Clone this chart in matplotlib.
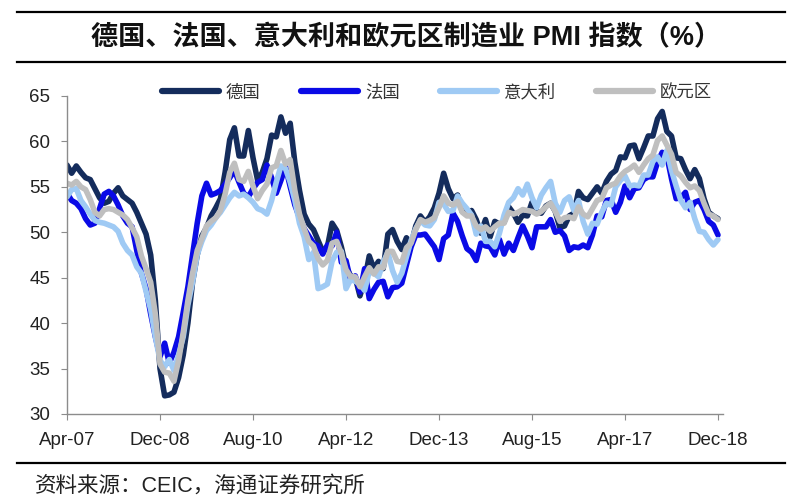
import matplotlib
matplotlib.use("Agg")
import matplotlib.pyplot as plt
from matplotlib.lines import Line2D
import numpy as np

plt.rcParams['font.family'] = ['Liberation Sans', 'Noto Sans CJK SC', 'DejaVu Sans']

tick_labels = ["Apr-07", "Dec-08", "Aug-10", "Apr-12", "Dec-13", "Aug-15", "Apr-17", "Dec-18"]
series_names = ["德国", "法国", "意大利", "欧元区"]

germany = [
    57.4, 56.5, 57.3, 56.6, 56.0, 55.8, 54.8, 53.8, 53.2, 53.4, 54.3, 54.9, 54.0, 53.6, 53.2, 52.2, 51.0, 49.8, 47.5, 42.5, 35.0,
    32.0, 32.1, 32.4, 34.0, 36.5, 40.0, 44.5, 47.5, 49.6, 50.5, 51.8, 52.7,
    53.7, 56.6, 60.2, 61.5, 58.4, 58.4, 61.2, 58.2, 55.7, 56.6, 58.1, 60.7,
    60.5, 62.7, 60.9, 62.0, 57.7, 54.6, 52.0, 50.9, 50.3, 49.1, 47.9, 48.4,
    51.0, 50.2, 48.4, 46.2, 45.2, 45.0, 43.0, 44.7, 47.4, 46.0, 46.8, 46.0,
    49.8, 50.3, 49.0, 48.1, 49.4, 48.6, 50.7, 51.8, 51.1, 51.7, 52.7, 54.3,
    56.5, 54.8, 53.7, 54.1, 52.3, 52.0, 52.4, 51.4, 49.9, 51.4, 49.5, 51.2,
    50.9, 51.1, 52.8, 52.1, 51.1, 51.9, 51.8, 53.3, 52.3, 52.1, 52.9, 53.2,
    52.3, 50.5, 50.7, 51.8, 52.1, 54.5, 53.8, 53.6, 54.3, 55.0, 54.3, 55.6,
    56.4, 56.8, 58.3, 58.2, 59.5, 59.6, 58.1, 59.3, 60.6, 60.6, 62.5, 63.3,
    61.1, 60.6, 58.2, 58.1, 56.9, 55.9, 56.9, 55.9, 53.7, 52.2, 51.8, 51.5,
]

france = [
    54.3, 53.5, 53.2, 52.6, 51.5, 50.8, 51.0, 52.6, 54.2, 54.5,
    54.0, 53.0, 51.8, 51.0, 50.6, 48.0, 45.5, 43.8, 41.0, 38.5,
    36.3, 37.8, 35.6, 36.8, 38.5, 41.2, 44.0, 47.5, 51.0, 54.0,
    55.4, 54.1, 54.3, 54.6, 55.3, 56.0, 56.8, 55.5, 54.3, 53.9,
    54.8, 55.5, 55.8, 57.4, 56.0, 54.3, 55.7, 57.2, 55.0, 53.0,
    51.6, 50.4, 49.6, 48.8, 48.5, 47.6, 48.6,
    48.5, 50.0, 46.7, 46.9, 44.7, 45.2, 43.4, 46.0, 42.7, 43.7, 44.5, 44.6,
    42.9, 43.9, 44.0, 44.4, 46.4, 48.4, 49.7, 49.7, 49.8, 49.1, 48.4, 47.0,
    49.3, 49.7, 52.1, 51.2, 49.6, 48.2, 47.8, 46.9, 48.8, 48.5, 48.4, 47.5,
    49.2, 47.6, 48.8, 48.0, 49.4, 50.7, 49.6, 48.3, 50.6, 50.6, 50.6, 51.4,
    50.0, 50.2, 49.6, 48.0, 48.4, 48.3, 48.6, 48.3, 49.7, 51.8, 51.7, 53.5,
    53.6, 52.2, 53.3, 55.1, 53.8, 54.8, 54.9, 55.8, 56.1, 56.1, 57.7, 58.8,
    58.4, 55.9, 53.7, 53.8, 54.4, 52.5, 53.3, 53.5, 52.5, 51.2, 50.8, 49.7,
]

italy = [
    53.9, 54.7, 54.8, 53.5, 52.8, 52.0, 51.3, 51.1, 51.0, 50.8,
    50.6, 50.1, 48.8, 48.0, 47.5, 46.2, 45.5, 43.5, 41.5, 38.5,
    35.9, 35.2, 36.0, 34.8, 36.5, 38.5, 42.0, 44.5, 47.5, 49.0,
    50.2, 50.8, 51.6, 52.2, 53.0, 53.8, 54.4, 54.0, 54.2, 53.8,
    53.3, 52.6, 52.4, 52.0, 53.5, 55.5, 57.3, 57.0, 55.5, 53.5,
    51.0, 49.5, 47.0, 47.8, 43.8, 44.0, 44.3,
    46.8, 47.8, 47.9, 43.8, 44.8, 44.6, 44.3, 43.6, 45.7, 45.5, 45.1, 46.7,
    47.8, 45.8, 44.5, 45.5, 47.3, 49.1, 50.4, 51.3, 50.8, 50.7, 51.4, 53.3,
    53.1, 52.3, 52.4, 54.0, 53.2, 52.6, 51.9, 49.8, 50.7, 49.0, 49.0, 48.4,
    49.9, 51.9, 53.3, 53.8, 54.8, 54.1, 55.3, 53.8, 52.7, 54.1, 54.9, 55.6,
    53.2, 52.2, 53.5, 53.9, 52.4, 53.5, 51.2, 49.8, 51.0, 50.9, 52.2, 53.2,
    53.0, 55.0, 55.7, 56.2, 55.1, 55.2, 55.1, 56.3, 56.3, 57.8, 58.3, 57.4,
    59.0, 56.8, 55.1, 53.5, 52.7, 53.3, 51.5, 50.1, 50.0, 49.2, 48.6, 49.2,
]

eurozone = [
    55.4, 55.2, 55.6, 55.0, 54.7, 53.6, 52.2, 51.8, 52.5, 52.6,
    52.5, 52.2, 51.9, 51.4, 50.5, 49.5, 47.4, 46.0, 44.5, 41.0,
    35.5, 34.6, 34.5, 33.6, 35.9, 39.0, 42.5, 45.5, 48.0, 49.3,
    50.7, 51.2, 51.6,
    52.4, 54.2, 56.6, 57.6, 55.8, 55.6, 56.7, 55.1, 53.7, 54.6, 55.3, 57.1,
    57.3, 59.0, 57.5, 58.0, 54.6, 52.0, 50.4, 49.0, 48.5, 47.1, 46.4, 46.9,
    48.8, 49.0, 47.7, 45.9, 45.1, 45.1, 44.0, 45.1, 46.1, 45.4, 46.2, 46.1,
    47.9, 47.9, 46.8, 46.7, 48.3, 48.8, 50.3, 51.4, 51.1, 51.3, 51.6, 52.7,
    54.0, 53.2, 53.0, 53.4, 52.2, 51.8, 51.8, 50.7, 50.3, 50.6, 50.1, 50.6,
    51.0, 51.0, 52.2, 52.0, 52.2, 52.5, 52.4, 52.3, 52.0, 52.3, 52.8, 53.2,
    52.3, 51.2, 51.6, 51.7, 51.5, 52.8, 52.0, 51.7, 52.6, 53.5, 53.7, 54.9,
    55.2, 55.4, 56.2, 56.7, 57.0, 57.4, 56.6, 57.4, 58.1, 58.5, 60.1, 60.6,
    59.6, 58.6, 56.6, 56.2, 55.5, 54.9, 55.1, 54.6, 53.2, 52.0, 51.8, 51.4,
]

colors = ["#142c5c", "#0a0ae6", "#9fcaf4", "#bfbfbf"]

W, H = 800, 500
fig = plt.figure(figsize=(8, 5), dpi=100)
x0, x1 = 67, 67 + 4.65 * 141
y_top, y_bot = 96, 414
ax = fig.add_axes([x0 / W, 1 - y_bot / H, (x1 - x0) / W, (y_bot - y_top) / H])

x = np.arange(len(germany))
for vals, c, name in zip([germany, france, italy, eurozone], colors, series_names):
    ax.plot(x, vals, color=c, lw=4.0, label=name, solid_joinstyle='round', solid_capstyle='round')

ax.set_xlim(0, 141)
ax.set_ylim(30, 65)
ax.set_yticks(np.arange(30, 66, 5))
ax.set_xticks(np.arange(0, 141, 20))
ax.set_xticklabels(tick_labels)
for s in ["top", "right"]:
    ax.spines[s].set_visible(False)
for s in ["left", "bottom"]:
    ax.spines[s].set_color("#8c8c8c")
    ax.spines[s].set_linewidth(1.0)
ax.tick_params(axis="both", direction="out", length=4, color="#8c8c8c", labelsize=13.5, labelcolor="#222222")
ax.tick_params(axis="y", pad=8)
ax.tick_params(axis="x", pad=9)

leg = ax.legend(loc="center", bbox_to_anchor=(437 / W, 1 - 92 / H), bbox_transform=fig.transFigure,
                ncol=4, frameon=False, fontsize=12.5, handlelength=3.3, handletextpad=0.4,
                columnspacing=2.3, borderaxespad=0)
for t in leg.get_texts():
    t.set_color("#333333")
for l in leg.get_lines():
    l.set_linewidth(4.5)

fig.text(406 / W, 1 - 38 / H, "德国、法国、意大利和欧元区制造业 PMI 指数（%）", ha="center", va="center",
         fontsize=19.5, fontweight="bold", color="#111111")
for yy in [12, 62, 463]:
    fig.add_artist(Line2D([17 / W, 785 / W], [1 - yy / H] * 2, color="black", lw=1.6))
fig.text(35 / W, 1 - 486 / H, "资料来源：CEIC，海通证券研究所", ha="left", va="center", fontsize=15.5, color="#222222")

fig.savefig("out.png", dpi=100)
